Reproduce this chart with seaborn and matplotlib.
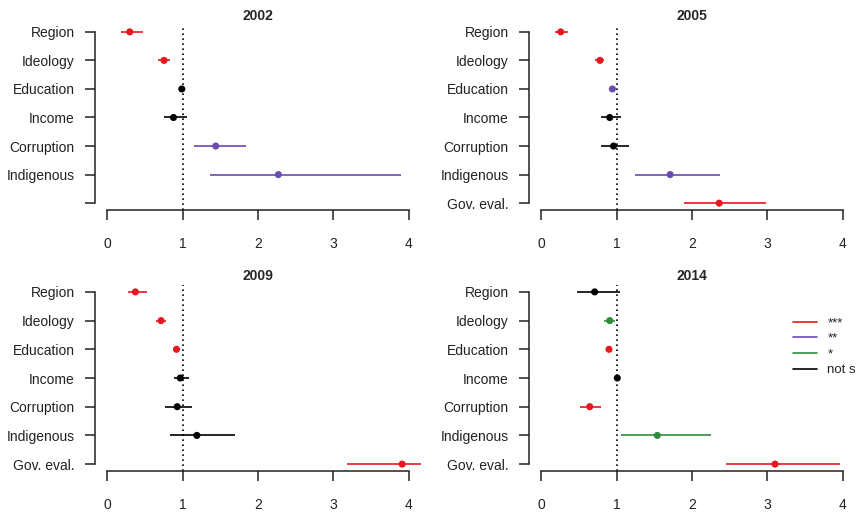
import matplotlib
matplotlib.use("Agg")
import matplotlib.pyplot as plt
from matplotlib.lines import Line2D
import pandas as pd
import seaborn as sns

# Predictor labels, top to bottom
variables = ["Region", "Ideology", "Education", "Income", "Corruption", "Indigenous", "Gov. eval."]

# Odds ratios with 95% confidence bounds and significance class per survey year
est_2002 = [0.30, 0.755, 0.99, 0.88, 1.44, 2.27]
lo_2002 = [0.185, 0.68, 0.96, 0.75, 1.15, 1.36]
hi_2002 = [0.48, 0.83, 1.02, 1.06, 1.84, 3.90]
sig_2002 = ["***", "***", "not s", "not s", "**", "**"]

est_2005 = [0.26, 0.78, 0.945, 0.91, 0.96, 1.71, 2.36]
lo_2005 = [0.19, 0.72, 0.92, 0.79, 0.80, 1.24, 1.90]
hi_2005 = [0.36, 0.83, 0.97, 1.06, 1.16, 2.375, 2.98]
sig_2005 = ["***", "***", "**", "not s", "not s", "**", "***"]

est_2009 = [0.375, 0.715, 0.92, 0.97, 0.93, 1.19, 3.91]
lo_2009 = [0.28, 0.65, 0.90, 0.89, 0.77, 0.84, 3.18]
hi_2009 = [0.53, 0.78, 0.94, 1.08, 1.13, 1.70, 4.16]
sig_2009 = ["***", "***", "***", "not s", "not s", "not s", "***"]

est_2014 = [0.71, 0.91, 0.90, 1.01, 0.645, 1.54, 3.10]
lo_2014 = [0.48, 0.83, 0.88, 0.99, 0.52, 1.06, 2.45]
hi_2014 = [1.05, 0.98, 0.92, 1.03, 0.80, 2.25, 3.96]
sig_2014 = ["not s", "*", "***", "not s", "***", "*", "***"]

years = ["2002", "2005", "2009", "2014"]
panels = {
    "2002": (est_2002, lo_2002, hi_2002, sig_2002),
    "2005": (est_2005, lo_2005, hi_2005, sig_2005),
    "2009": (est_2009, lo_2009, hi_2009, sig_2009),
    "2014": (est_2014, lo_2014, hi_2014, sig_2014),
}

sig_levels = ["***", "**", "*", "not s"]
palette = {"***": "#E8161E", "**": "#6A4BB2", "*": "#2F8A3C", "not s": "#000000"}

sns.set_theme(style="white")
plt.rcParams["font.family"] = ["Liberation Sans", "DejaVu Sans"]

W, H = 859, 515
fig = plt.figure(figsize=(W / 100, H / 100), dpi=100)

# axes boxes in pixels: left, right, top, bottom
boxes = {
    "2002": (95, 421, 25, 210),
    "2005": (529, 855, 25, 210),
    "2009": (95, 421, 285, 471),
    "2014": (529, 855, 285, 471),
}

for year in years:
    est, lo, hi, sig = panels[year]
    n = len(est)
    df = pd.DataFrame({
        "variable": variables[:n],
        "pos": list(range(1, n + 1)),
        "est": est,
        "lo": lo,
        "hi": hi,
        "sig": sig,
    })
    l, r, t, b = boxes[year]
    ax = fig.add_axes([l / W, 1 - b / H, (r - l) / W, (b - t) / H])

    ax.axvline(1, color="black", linestyle=(0, (1, 2.0)), linewidth=1.2, zorder=1)
    for _, row in df.iterrows():
        ax.plot([row["lo"], row["hi"]], [row["pos"], row["pos"]],
                color=palette[row["sig"]], linewidth=1.2, solid_capstyle="butt",
                clip_on=False, zorder=2)
    sns.scatterplot(data=df, x="est", y="pos", hue="sig", palette=palette,
                    hue_order=sig_levels, s=26, edgecolor="none", legend=False,
                    ax=ax, zorder=3, clip_on=False)

    ax.set_xlim(-0.16, 4.16)
    ax.set_ylim(7.24, 0.76)
    ax.set_xticks([0, 1, 2, 3, 4])
    ax.set_xticklabels(["0", "1", "2", "3", "4"])
    ax.set_yticks(list(range(1, 8)))
    ax.set_yticklabels(variables[:n] + [""] * (7 - n))
    ax.set_xlabel("")
    ax.set_ylabel("")
    ax.set_title(year, fontsize=10, fontweight="bold", pad=3.5)

    for side in ["top", "right"]:
        ax.spines[side].set_visible(False)
    for side in ["left", "bottom"]:
        ax.spines[side].set_linewidth(1.1)
        ax.spines[side].set_color("#222222")
    ax.spines["left"].set_bounds(1, 7)
    ax.spines["bottom"].set_bounds(0, 4)
    ax.tick_params(axis="both", direction="out", length=7.5, width=1.1,
                   color="#222222", labelsize=10, labelcolor="#222222",
                   left=True, bottom=True)
    ax.tick_params(axis="x", pad=12)
    ax.tick_params(axis="y", pad=7)
    ax.grid(False)

    if year == "2014":
        handles = [Line2D([0], [0], color=palette[s], linewidth=1.2) for s in sig_levels]
        fig.legend(handles, sig_levels, loc="upper left",
                   bbox_to_anchor=(793 / W, 1 - 317 / H), frameon=False,
                   fontsize=9.5, handlelength=1.8, handletextpad=0.8,
                   labelspacing=0.26, borderpad=0, borderaxespad=0,
                   labelcolor="#222222")

fig.savefig("out.png", dpi=100)
